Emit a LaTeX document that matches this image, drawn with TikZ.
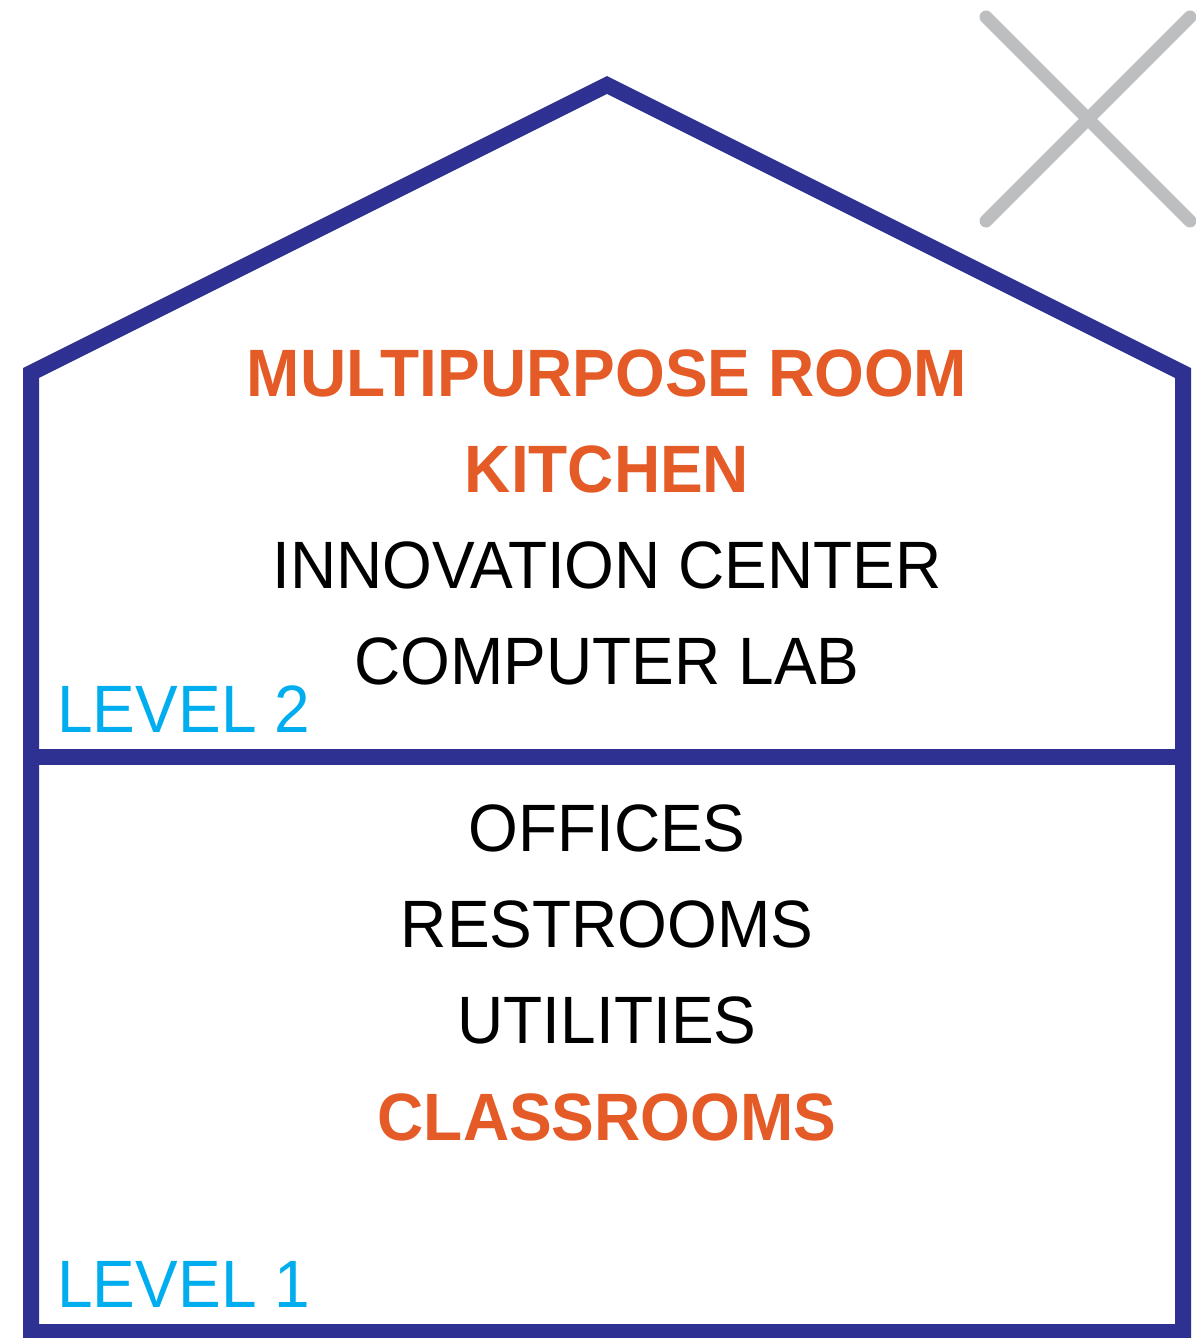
\documentclass[tikz,border=0pt]{standalone}
\usepackage{fontspec}
\setmainfont[FakeStretch=0.955]{Liberation Sans}
\usepackage{tikz}
\definecolor{navy}{HTML}{2E3192}
\definecolor{brick}{HTML}{E55B27}
\definecolor{sky}{HTML}{00AEEF}
\definecolor{closegray}{HTML}{BCBEC0}
\newcommand*\roomfont{\fontsize{33.5}{40}\selectfont}

\begin{document}
\begin{tikzpicture}[x=0.5pt,y=-0.5pt,
    wall/.style={draw=navy,line width=8pt,line join=miter},
    room/.style={anchor=base,inner sep=0pt,font=\roomfont},
    feature/.style={room,text=brick,font=\roomfont\bfseries},
    level/.style={anchor=base west,inner sep=0pt,text=sky,font=\roomfont}]
\useasboundingbox (0,0) rectangle (1195,1338);
% house outline and floor
\draw[wall] (31,1332) -- (31,373) -- (607,85) -- (1183,373) -- (1183,1332) -- cycle;
\draw[wall] (31,757) -- (1183,757);
% close mark
\draw[closegray,line width=6.5pt,line cap=round] (986,17) -- (1190,221);
\draw[closegray,line width=6.5pt,line cap=round] (986,221) -- (1190,17);
% level 2
\node[feature] (multi) at (607,396) {MULTIPURPOSE ROOM};
\node[feature] (kitchen) at (607,492) {KITCHEN};
\node[room] (innov) at (607,588) {INNOVATION CENTER};
\node[room] (lab) at (607,684) {COMPUTER LAB};
\node[level] (lvltwo) at (57,732) {LEVEL 2};
% level 1
\node[room] (offices) at (607,851) {OFFICES};
\node[room] (rest) at (607,947) {RESTROOMS};
\node[room] (util) at (607,1043) {UTILITIES};
\node[feature] (class) at (607,1140) {CLASSROOMS};
\node[level] (lvlone) at (57,1307) {LEVEL 1};
\end{tikzpicture}
\end{document}
